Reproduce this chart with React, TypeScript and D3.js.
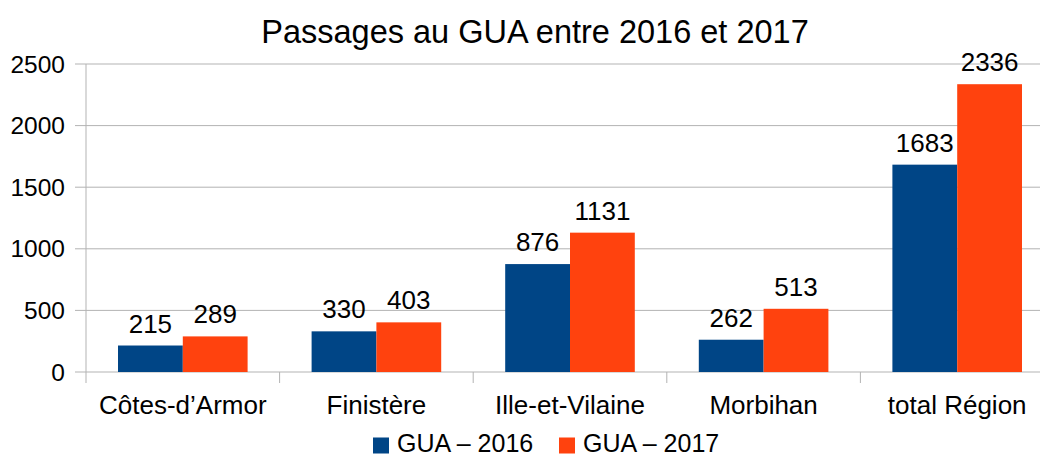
import * as d3 from 'd3'

const categories = ['Côtes-d’Armor', 'Finistère', 'Ille-et-Vilaine', 'Morbihan', 'total Région']
const series2016 = [215, 330, 876, 262, 1683]
const series2017 = [289, 403, 1131, 513, 2336]
const seriesNames = ['GUA – 2016', 'GUA – 2017']
const colors = ['#004586', '#ff420e']
const yTicks = [0, 500, 1000, 1500, 2000, 2500]
const title = 'Passages au GUA entre 2016 et 2017'

const W = 1040
const H = 457
const margin = { top: 64, right: -14, bottom: 85, left: 86 }
const font = '"Liberation Sans", Arial, sans-serif'

export default function App() {
  const innerW = W - margin.left - margin.right
  const innerH = H - margin.top - margin.bottom

  const x = d3.scaleBand<string>().domain(categories).range([0, innerW]).paddingInner(0).paddingOuter(0)
  const y = d3.scaleLinear().domain([0, 2500]).range([innerH, 0])
  const sub = d3.scaleBand<number>().domain([0, 1]).range([32, x.bandwidth() - 32])

  const allSeries = [series2016, series2017]

  return (
    <svg width={W} height={H} style={{ position: 'absolute', left: 0, top: 0, fontFamily: font }}>
      <rect width={W} height={H} fill="#fff" />
      <text x={535} y={43} textAnchor="middle" fontSize={32.5} fill="#000">{title}</text>
      <g transform={`translate(${margin.left},${margin.top})`}>
        {yTicks.map(t => (
          <g key={t}>
            <line x1={-11} x2={innerW} y1={y(t)} y2={y(t)} stroke="#b3b3b3" strokeWidth={1} />
            <text x={-21} y={y(t) + 8.5} textAnchor="end" fontSize={24.5} fill="#000">{t}</text>
          </g>
        ))}
        <line x1={0} x2={0} y1={0} y2={innerH + 11} stroke="#b3b3b3" strokeWidth={1} />
        {categories.map(c => (
          <line key={c} x1={x(c)! + x.bandwidth()} x2={x(c)! + x.bandwidth()} y1={innerH} y2={innerH + 11} stroke="#b3b3b3" />
        ))}
        {categories.map((c, i) => (
          <g key={c} transform={`translate(${x(c)},0)`}>
            {allSeries.map((s, k) => (
              <g key={k}>
                <rect x={sub(k)} y={y(s[i])} width={sub.bandwidth()} height={innerH - y(s[i])} fill={colors[k]} />
                <text x={sub(k)! + sub.bandwidth() / 2} y={y(s[i]) - 13} textAnchor="middle" fontSize={26} fill="#000">{s[i]}</text>
              </g>
            ))}
            <text x={x.bandwidth() / 2} y={innerH + 42} textAnchor="middle" fontSize={26} fill="#000">{c}</text>
          </g>
        ))}
      </g>
      {/* legend sits right at the bottom edge, nudged up a little so glyphs aren't clipped */}
      <g transform="translate(373,436)">
        {seriesNames.map((n, k) => (
          <g key={n} transform={`translate(${k * 186},0)`}>
            <rect x={0} y={1.5} width={16} height={16} fill={colors[k]} />
            <text x={24} y={16} fontSize={25} fill="#000">{n}</text>
          </g>
        ))}
      </g>
    </svg>
  )
}
